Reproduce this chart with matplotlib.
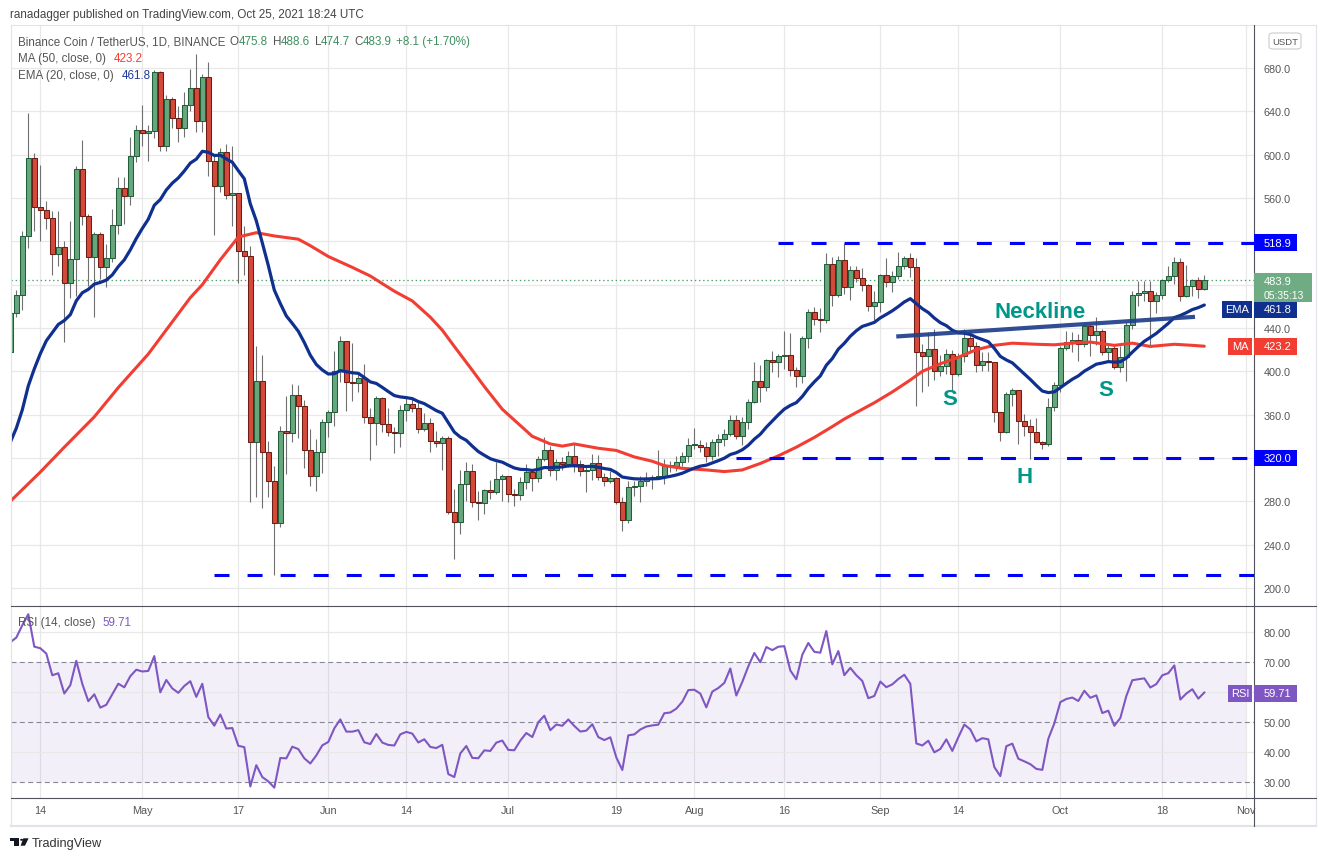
import numpy as np
import pandas as pd
import matplotlib
matplotlib.use("Agg")
import matplotlib.pyplot as plt
from matplotlib.lines import Line2D
from matplotlib.patches import Rectangle, Polygon, Circle, FancyBboxPatch

plt.rcParams["font.family"] = ["Liberation Sans", "DejaVu Sans"]
plt.rcParams["lines.scale_dashes"] = False

W, H = 1326, 862

# BNB/USDT daily candles, 2021-04-09 .. 2021-10-25
start = pd.Timestamp("2021-04-09")
opens = [418, 453.6, 470.8, 525.3, 597, 551.4, 549, 541.3, 508.3, 514.5,
         481.3, 503.7, 586.8, 543.1, 505.3, 526.8, 496.6, 504.6, 535.1, 569.3,
         562.2, 599.1, 622.8, 619.7, 621.6, 676, 608.3, 651.4, 633.6, 624.3,
         645.9, 661.3, 630.8, 671.4, 594.5, 570.7, 602.1, 563, 564.3, 511.4,
         506.7, 334.4, 390.7, 325.2, 299, 259.6, 344.6, 342.7, 378.4, 368.3,
         327.7, 303.7, 325.2, 352.9, 362.1, 400.6, 427.7, 389.8, 389.5, 393.5,
         357.5, 352, 375, 351, 344.3, 342.7, 364.6, 369.5, 365.8, 346.7,
         352, 336, 333.6, 338.2, 269.9, 261.3, 295.7, 307.7, 279.7, 278.8,
         290.2, 289, 300.3, 303.1, 286.9, 286.3, 297.6, 306.8, 301.2, 319.1,
         327.4, 309.2, 316, 314.5, 321.6, 314.5, 308.3, 309.2, 315.1, 302.2,
         299.1, 301.3, 279.7, 263.1, 293, 293.9, 298.5, 301.2, 302.2, 302.8,
         312.3, 312.9, 316, 321.6, 331.7, 332, 329.9, 322.2, 334.5, 337.5,
         341.8, 355.4, 340.6, 353.5, 371.4, 390.8, 385.2, 410.2, 408.3, 414.2,
         415.1, 401, 395.4, 430.8, 454.5, 448.3, 447.7, 499.1, 470.8, 502.8,
         477.5, 493.9, 485.9, 479.7, 460, 463.7, 488.9, 482.8, 487.7, 496.9,
         504.3, 496, 418.2, 414.5, 420.6, 400.6, 404.6, 416, 397.5, 413.9,
         430.5, 423.7, 406.2, 409.9, 408.3, 362.8, 343.7, 379.1, 382.5, 354.5,
         349.2, 343.7, 334.5, 332.6, 366.8, 387.4, 421.2, 426.8, 429.2, 425.2,
         441.5, 433.8, 437.5, 418.1, 421.2, 403.7, 412.9, 443.1, 470.4, 472.3,
         473.8, 465.2, 470.4, 484.3, 487.7, 500.6, 469.8, 478.4, 484.6, 475.8]
highs = [458, 475, 530, 638.5, 602, 590.5, 557, 547.7, 547.7, 520.6,
         539, 589.9, 613.9, 545, 529, 529, 517.6, 549.9, 579, 579,
         616, 627.7, 646.2, 627.4, 678.5, 677.6, 655, 653, 645, 658.2,
         679, 693, 674.5, 685.3, 599, 606, 610, 608, 565, 533.8,
         516, 423, 415, 335.4, 312.3, 349.2, 377.5, 388.3, 387.3, 373.8,
         346.7, 337.5, 356, 364.3, 419, 432.3, 428.3, 426, 399, 406.7,
         365.8, 377.5, 376, 365.8, 348.3, 368.9, 377.5, 376, 371.3, 362,
         356.6, 344.6, 340, 340.6, 291.4, 309.3, 316, 314.5, 289.2, 291.4,
         299.7, 316, 305.3, 303.7, 291.4, 302.2, 314.5, 309.2, 322.2, 339.7,
         331.4, 319.1, 320.6, 326.8, 333.9, 318.2, 313, 323.7, 322.8, 306.2,
         308.3, 302.2, 283.7, 299.1, 299, 303.7, 306.8, 304.3, 327.4, 319.1,
         317.6, 322.2, 325.2, 338.5, 347.7, 336.9, 335.1, 337.5, 342.2, 346.8,
         359.7, 359.7, 357.5, 374.5, 408.3, 405.9, 411.4, 418.8, 416, 437.6,
         435.4, 404, 432.3, 457.6, 459.7, 458.5, 509.3, 505.2, 506.8, 518.9,
         497.5, 497.5, 495.1, 480.6, 474.5, 489.9, 504.3, 492.9, 509.9, 506.8,
         509.3, 504.3, 425.2, 436, 439.1, 415.1, 420.6, 420, 417, 439.1,
         437.6, 426.8, 418.2, 418.2, 408.3, 362.8, 381.2, 384.9, 382.5, 360.6,
         356, 356.6, 336, 375.1, 389.8, 423.7, 437.5, 436, 434.4, 443.7,
         443.7, 449.8, 439.1, 426.1, 425.2, 423.7, 445.2, 474.4, 483.1, 483.7,
         483.7, 472.9, 485.2, 497.5, 505.2, 504.3, 498.1, 485.2, 486.8, 488.6]
lows = [404, 450, 457, 514, 530, 520.6, 531.4, 489, 497.6, 427.4,
        467.4, 469.9, 535, 479, 450, 485.3, 477.6, 501.3, 526.8, 536,
        553.6, 593.6, 608.3, 594.5, 615, 603.7, 603, 624.3, 611.4, 616,
        640, 620.6, 620.6, 580.6, 526, 565.8, 559, 534.4, 482, 488.9,
        279, 283.6, 273.5, 283.6, 211.7, 256.6, 305.2, 334.4, 338.1, 310.7,
        294.4, 289.8, 306.1, 339, 349.8, 390.4, 363.7, 372.9, 380.6, 352.3,
        318.4, 332.3, 343.7, 340, 324.3, 329.8, 354.4, 362.1, 342.7, 345,
        325.9, 329.9, 309.2, 268.3, 226.8, 249.9, 280.6, 274.5, 263.1, 268.3,
        282.2, 286.8, 280.6, 279.1, 275.4, 281.2, 291.4, 289.9, 297.6, 317.6,
        303.7, 300, 309.2, 311.4, 307.4, 303.7, 289, 300, 300, 293.9,
        297, 277.6, 253, 260, 285.3, 279.7, 294.5, 291.4, 300.6, 296,
        307.4, 308.3, 312.3, 316.6, 328.3, 325.2, 316, 318.5, 322.2, 330.8,
        340.6, 337.5, 332, 346.8, 370.5, 371.4, 382.2, 399.1, 394.5, 402.2,
        396, 385.2, 389.2, 421.2, 442.8, 436.6, 444.6, 460.6, 469, 471.4,
        466.2, 482.2, 474.5, 456, 447.7, 454.5, 477.5, 472.9, 485.2, 494.5,
        486.8, 368.3, 380.6, 386.8, 392.3, 396, 397.5, 382.2, 395.4, 408.9,
        419.1, 399.7, 400.6, 400.6, 352.9, 336, 343.1, 368.3, 332.9, 340.6,
        319.1, 333.5, 328.3, 330.8, 363.7, 380.6, 420, 418.1, 409.8, 422.1,
        413.8, 424.3, 415.1, 408.9, 402.1, 399.1, 391.4, 439.1, 460, 464.6,
        422.1, 453.8, 466.8, 482.7, 480.6, 465.2, 468.3, 469.8, 467.4, 474.7]
closes = [453.6, 470.8, 525.3, 597, 551.4, 549, 541.3, 508.3, 514.5, 481.3,
          503.7, 586.8, 543.1, 505.3, 526.8, 496.6, 504.6, 535.1, 569.3, 562.2,
          599.1, 622.8, 619.7, 621.6, 676, 608.3, 651.4, 633.6, 624.3, 645.9,
          661.3, 630.8, 671.4, 594.5, 570.7, 602.1, 563, 564.3, 511.4, 506.7,
          334.4, 390.7, 325.2, 299, 259.6, 344.6, 342.7, 378.4, 368.3, 327.7,
          303.7, 325.2, 352.9, 362.1, 400.6, 427.7, 389.8, 389.5, 393.5, 357.5,
          352, 375, 351, 344.3, 342.7, 364.6, 369.5, 365.8, 346.7, 352,
          336, 333.6, 338.2, 269.9, 261.3, 295.7, 307.7, 279.7, 278.8, 290.2,
          289, 300.3, 303.1, 286.9, 286.3, 297.6, 306.8, 301.2, 319.1, 327.4,
          309.2, 316, 314.5, 321.6, 314.5, 308.3, 309.2, 315.1, 302.2, 299.1,
          301.3, 279.7, 263.1, 293, 293.9, 298.5, 301.2, 302.2, 302.8, 312.3,
          312.9, 316, 321.6, 331.7, 332, 329.9, 322.2, 334.5, 337.5, 341.8,
          355.4, 340.6, 353.5, 371.4, 390.8, 385.2, 410.2, 408.3, 414.2, 415.1,
          401, 395.4, 430.8, 454.5, 448.3, 447.7, 499.1, 470.8, 502.8, 477.5,
          493.9, 485.9, 479.7, 460, 463.7, 488.9, 482.8, 487.7, 496.9, 504.3,
          496, 418.2, 414.5, 420.6, 400.6, 404.6, 416, 397.5, 413.9, 430.5,
          423.7, 406.2, 409.9, 408.3, 362.8, 343.7, 379.1, 382.5, 354.5, 349.2,
          343.7, 334.5, 332.6, 366.8, 387.4, 421.2, 426.8, 429.2, 425.2, 441.5,
          433.8, 437.5, 418.1, 421.2, 403.7, 412.9, 443.1, 470.4, 472.3, 473.8,
          465.2, 470.4, 484.3, 487.7, 500.6, 469.8, 478.4, 484.6, 475.8, 483.9]

# indicator state carried in from before the first visible bar
ema_seed = 322.0
rsi_seed_gain = 14.0
rsi_seed_loss = 4.26

# MA(50) (bar index, value)
ma50_idx = [0, 5, 9, 14, 18, 23, 30, 32, 35, 38, 41, 44, 48, 50, 53, 57, 60, 64, 67, 70,
            72, 74, 77, 79, 82, 85, 87, 90, 92, 94, 96, 98, 101, 104, 107, 109, 112, 116, 119, 122,
            125, 128, 131, 134, 137, 139, 141, 144, 147, 150, 152, 155, 158, 161, 164, 167, 171, 174, 177, 180,
            184, 187, 190, 194, 197, 199]
ma50_val = [280, 307, 330, 358, 385, 416, 468, 480, 503, 524, 528, 525, 522, 516, 506, 496, 488, 474, 465, 450,
            438, 423, 401, 386, 365, 350, 340, 333, 331, 333, 331, 329, 327, 321, 317, 313, 310.5, 309, 307.5, 309,
            315, 322, 330, 339, 349, 356, 362, 371, 381, 392, 400, 407, 413, 420, 424, 426, 425, 424.5, 426, 427,
            424, 426, 423, 425, 424, 423.2]

# last indicator readings printed by the platform
last_ma, last_ema, last_rsi = 423.2, 461.8, 59.71

# drawn levels / annotations
levels = [518.9, 320.0, 211.7]
level_from = ["2021-08-15", "2021-08-08", "2021-05-13"]
neck_days = [148.0, 197.1]
neck_prices = [432.3, 450.2]
pattern_labels = [("Neckline", 171.7, 455.4), ("S", 156.5, 374.7), ("H", 169.0, 302.7), ("S", 182.6, 383.0)]

tick_dates = ["2021-04-14", "2021-05-01", "2021-05-17", "2021-06-01", "2021-06-14", "2021-07-01", "2021-07-19",
              "2021-08-01", "2021-08-16", "2021-09-01", "2021-09-14", "2021-10-01", "2021-10-18", "2021-11-01"]
tick_labels = ["14", "May", "17", "Jun", "14", "Jul", "19", "Aug", "16", "Sep", "14", "Oct", "18", "Nov"]


def day(s):
    return (pd.Timestamp(s) - start).days


o = np.array(opens)
h = np.array(highs)
l = np.array(lows)
c = np.array(closes)
n = len(c)
x = np.arange(n)

ema = pd.Series([ema_seed] + closes).ewm(span=20, adjust=False).mean().iloc[1:].to_numpy()

gain = np.empty(n)
loss = np.empty(n)
gain[0], loss[0] = rsi_seed_gain, rsi_seed_loss
for i in range(1, n):
    d = c[i] - c[i - 1]
    gain[i] = (gain[i - 1] * 13 + max(d, 0)) / 14
    loss[i] = (loss[i - 1] * 13 + max(-d, 0)) / 14
rsi = 100 * gain / (gain + loss)

UP, UP_EDGE = "#68a67e", "#1f5f3a"
DN, DN_EDGE = "#d4493a", "#6e1d15"
GRID = "#e8e8e8"
TXT = "#555555"
BLUE = "#0000ff"
TEAL = "#009688"
TICK_FS = 7.8

fig = plt.figure(figsize=(W / 100, H / 100), dpi=100)
ax = fig.add_axes([11 / W, 1 - 607 / H, 1243 / W, 581 / H])
ax2 = fig.add_axes([11 / W, 1 - 799 / H, 1243 / W, 192 / H])

x0, x1 = 0.117, 207.28
for a in (ax, ax2):
    a.set_xlim(x0, x1)
    for s in a.spines.values():
        s.set_visible(False)
    a.set_xticks([day(d) for d in tick_dates])
    a.grid(axis="x", color=GRID, lw=0.9)
    a.set_axisbelow(True)
    a.yaxis.tick_right()
    a.tick_params(length=0, labelsize=TICK_FS, labelcolor=TXT)
ax.set_ylim(183.4, 719.7)
ax2.set_ylim(24.77, 88.77)
ax.set_xticklabels([])
ax2.set_xticklabels(tick_labels)
ax2.tick_params(axis="x", pad=5.0)
ax.tick_params(axis="y", pad=7.0)
ax2.tick_params(axis="y", pad=7.0)

# price scale; ticks hidden behind the level / last-price tags get no text
yt = np.arange(200, 681, 40)
covered = {320, 480, 520}
ax.set_yticks(yt)
ax.set_yticklabels(["" if v in covered else f"{v:.1f}" for v in yt])
ax.grid(axis="y", color=GRID, lw=0.9)

# candles
ax.vlines(x, l, h, color="#707070", lw=0.8, zorder=3)
lo_b = np.minimum(o, c)
hb = np.maximum(np.abs(c - o), 0.9)
up = c >= o
ax.bar(x[up], hb[up], bottom=lo_b[up], width=0.76, color=UP, edgecolor=UP_EDGE, lw=0.75, zorder=4)
ax.bar(x[~up], hb[~up], bottom=lo_b[~up], width=0.76, color=DN, edgecolor=DN_EDGE, lw=0.75, zorder=4)

ax.axhline(closes[-1], color="#4f9c6d", lw=0.9, ls=(0, (1, 2)), zorder=2)
ax.plot(ma50_idx, ma50_val, color="#f23d33", lw=2.2, zorder=5, solid_capstyle="round")
ax.plot(x, ema, color="#10308f", lw=2.3, zorder=5, solid_capstyle="round")

for lv, d0 in zip(levels, level_from):
    ax.plot([day(d0), x1], [lv, lv], color=BLUE, lw=2.2, ls=(0, (10.8, 13)), zorder=6)

ax.plot(neck_days, neck_prices, color="#1f3f8c", lw=3.0, alpha=0.92, zorder=6)
for txt, dx, pyv in pattern_labels:
    ax.text(dx, pyv, txt, color=TEAL, fontsize=16, fontweight="bold", ha="center", va="center", zorder=7)

# RSI panel
ax2.fill_between([x0, day("2021-11-01")], 30, 70, color="#7e57c2", alpha=0.09, lw=0)
for v in (40, 60, 80):
    ax2.axhline(v, color=GRID, lw=0.9, zorder=1)
for v in (30, 50, 70):
    ax2.axhline(v, color="#868993", lw=0.8, ls=(0, (3.6, 2.4)), zorder=1)
ax2.plot(x, rsi, color="#7e57c2", lw=1.5, zorder=4)
rt = [30, 40, 50, 60, 70, 80]
ax2.set_yticks(rt)
ax2.set_yticklabels(["" if v == 60 else f"{v:.2f}" for v in rt])


# frame lines (pixel coords, origin top-left)
def fline(xa, ya, xb, yb, col, lw=0.8):
    fig.add_artist(Line2D([xa / W, xb / W], [1 - ya / H, 1 - yb / H], color=col, lw=lw, zorder=5))


FRAME = "#e0e3eb"
DARK = "#50535e"
fline(10.5, 25.7, 1316, 25.7, FRAME)
fline(10.5, 25.7, 10.5, 827, FRAME)
fline(1316, 25.7, 1316, 827, FRAME)
fline(10.5, 827, 1316, 827, FRAME, 1.5)
fline(1254, 25.7, 1254, 827, DARK)
fline(10.5, 607.3, 1316, 607.3, DARK)
fline(10.5, 799, 1316, 799, DARK)


def py(a, v):
    return H - a.transData.transform((0, v))[1]


def box(xa, xb, yc, hh, fc, ec="none", z=10):
    fig.add_artist(Rectangle((xa / W, 1 - (yc + hh / 2) / H), (xb - xa) / W, hh / H,
                             transform=fig.transFigure, fc=fc, ec=ec, lw=0.8, zorder=z))


def ftext(xp, yp, s, **kw):
    kw.setdefault("zorder", 11)
    return fig.text(xp / W, 1 - yp / H, s, **kw)


TAG_FS = 8.0


def tag(yc, text, fc, left=None, lx0=1228):
    box(1254, 1297, yc, 16.7, fc)
    ftext(1264, yc, text, color="white", fontsize=TAG_FS, va="center", ha="left")
    if left:
        box(lx0, 1252, yc, 16.7, fc)
        ftext((lx0 + 1252) / 2, yc, left, color="white", fontsize=TAG_FS, va="center", ha="center")


tag(py(ax, 518.9), "518.9", BLUE)
tag(py(ax, 320.0), "320.0", BLUE)
tag(py(ax, last_ema) + 5, f"{last_ema:.1f}", "#10308f", left="EMA", lx0=1222)
tag(py(ax, last_ma), f"{last_ma:.1f}", "#f23d33", left="MA")
tag(py(ax2, last_rsi), f"{last_rsi:.2f}", "#7e57c2", left="RSI")

# last price tag with countdown
box(1254, 1312, 288.7, 29.3, "#6fac84")
ftext(1264, 282.0, f"{closes[-1]:.1f}", color="white", fontsize=TAG_FS, va="center")
ftext(1264, 296.3, "05:35:13", color="white", fontsize=TAG_FS - 0.5, va="center")

# USDT badge
fig.add_artist(FancyBboxPatch((1269 / W, 1 - 50 / H), 32 / W, 16 / H, boxstyle="round,pad=0,rounding_size=0.003",
                              transform=fig.transFigure, fc="white", ec="#c9ccd3", lw=0.8, zorder=10))
ftext(1285, 42.2, "USDT", color=TXT, fontsize=6.8, ha="center", va="center")


# legends: pieces of text laid one after another
def chain(host, xp, yp, parts, size=8.4):
    t = ftext(xp, yp, parts[0][0], color=parts[0][1], fontsize=size, va="center", ha="left")
    for s, col, gap in parts[1:]:
        t = host.annotate(s, xy=(1, 0), xycoords=t, xytext=(gap * 0.72, 0), textcoords="offset points",
                          va="bottom", ha="left", color=col, fontsize=size, annotation_clip=False,
                          clip_on=False, zorder=11)


GREEN_T = "#3f8f5f"
chain(ax, 18, 42.3, [("Binance Coin / TetherUS, 1D, BINANCE", TXT, 0),
                     ("O", TXT, 4.5), ("475.8", GREEN_T, 0),
                     ("H", TXT, 4.5), ("488.6", GREEN_T, 0),
                     ("L", TXT, 4.5), ("474.7", GREEN_T, 0),
                     ("C", TXT, 4.5), ("483.9", GREEN_T, 0),
                     ("+8.1 (+1.70%)", GREEN_T, 4.5)])
chain(ax, 18, 59, [("MA (50, close, 0)", TXT, 0), (f"{last_ma:.1f}", "#f23d33", 8)])
chain(ax, 18, 75.7, [("EMA (20, close, 0)", TXT, 0), (f"{last_ema:.1f}", "#1e3a9a", 8)])
chain(ax2, 18, 623.3, [("RSI (14, close)", TXT, 0), (f"{last_rsi:.2f}", "#7e57c2", 7.5)])

ftext(10, 15, "ranadagger published on TradingView.com, Oct 25, 2021 18:24 UTC", color="#444444",
      fontsize=8.4, va="center", ha="left")

# TradingView logo
LOGO = "#131722"


def poly(pts):
    fig.add_artist(Polygon([(px / W, 1 - pyy / H) for px, pyy in pts], closed=True,
                           transform=fig.transFigure, fc=LOGO, ec="none", zorder=11))


poly([(10, 839.3), (19.3, 839.3), (19.3, 846.7), (14.3, 846.7), (14.3, 842.2), (10, 842.2)])
fig.add_artist(Circle((21.6 / W, 1 - 840.8 / H), 1.5 / W, transform=fig.transFigure, fc=LOGO, ec="none", zorder=11))
poly([(23.3, 839.3), (28.6, 839.3), (25.0, 846.7), (20.6, 846.7)])
ftext(31.5, 844, "TradingView", color="#333333", fontsize=9.2, va="center", ha="left")

fig.savefig("out.png", dpi=100)
